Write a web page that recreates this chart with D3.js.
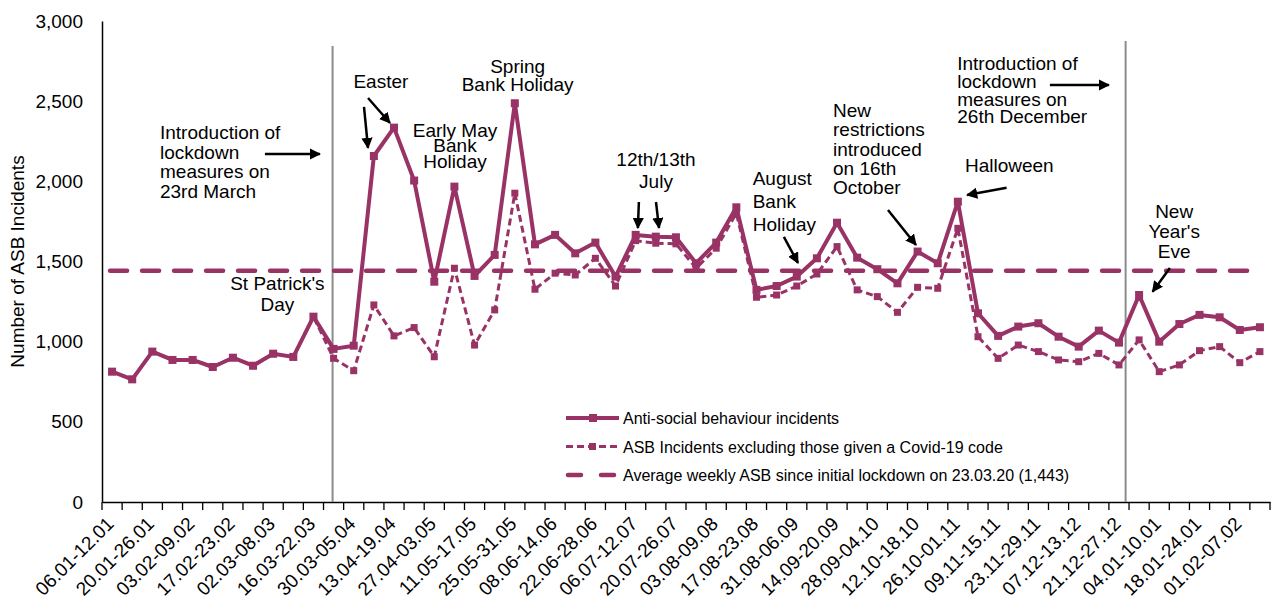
<!DOCTYPE html>
<html>
<head>
<meta charset="utf-8">
<script src="https://cdn.jsdelivr.net/npm/d3@7.9.0/dist/d3.min.js"></script>
<style>
  body { margin: 0; background: #fff; }
  svg text { font-family: "Liberation Sans", Arial, sans-serif; fill: #000; }
</style>
</head>
<body>
<svg id="chart" width="1274" height="601"></svg>
<script>
// weekly periods, 06.01.2020 to 14.02.2021
const weeks = [
  "06.01-12.01", "13.01-19.01", "20.01-26.01", "27.01-02.02", "03.02-09.02", "10.02-16.02",
  "17.02-23.02", "24.02-01.03", "02.03-08.03", "09.03-15.03", "16.03-22.03", "23.03-29.03",
  "30.03-05.04", "06.04-12.04", "13.04-19.04", "20.04-26.04", "27.04-03.05", "04.05-10.05",
  "11.05-17.05", "18.05-24.05", "25.05-31.05", "01.06-07.06", "08.06-14.06", "15.06-21.06",
  "22.06-28.06", "29.06-05.07", "06.07-12.07", "13.07-19.07", "20.07-26.07", "27.07-02.08",
  "03.08-09.08", "10.08-16.08", "17.08-23.08", "24.08-30.08", "31.08-06.09", "07.09-13.09",
  "14.09-20.09", "21.09-27.09", "28.09-04.10", "05.10-11.10", "12.10-18.10", "19.10-25.10",
  "26.10-01.11", "02.11-08.11", "09.11-15.11", "16.11-22.11", "23.11-29.11", "30.11-06.12",
  "07.12-13.12", "14.12-20.12", "21.12-27.12", "28.12-03.01", "04.01-10.01", "11.01-17.01",
  "18.01-24.01", "25.01-31.01", "01.02-07.02", "08.02-14.02"
];

const asbAll = [
  813, 765, 938, 886, 886, 842, 900, 850, 925, 905, 1156, 955,
  975, 2158, 2335, 2005, 1374, 1967, 1410, 1541, 2487, 1607,
  1666, 1551, 1618, 1406, 1666, 1655, 1651, 1489, 1618, 1838,
  1323, 1347, 1406, 1520, 1742, 1524, 1452, 1364, 1562, 1489,
  1873, 1177, 1036, 1094, 1115, 1031, 969, 1069, 994, 1291,
  1000, 1110, 1167, 1152, 1073, 1090
];

const asbExCovid = [
  813, 765, 938, 886, 886, 842, 900, 850, 925, 905, 1156, 896,
  819, 1229, 1036, 1088, 906, 1458, 979, 1198, 1926, 1327,
  1427, 1416, 1520, 1347, 1630, 1614, 1610, 1458, 1583, 1801,
  1277, 1291, 1347, 1422, 1593, 1323, 1281, 1183, 1339, 1333,
  1707, 1031, 896, 979, 938, 886, 875, 927, 855, 1011,
  813, 855, 944, 969, 869, 938
];

const averageSinceLockdown = 1443;
const yTicks = [0, 500, 1000, 1500, 2000, 2500, 3000];

const seriesNames = [
  "Anti-social behaviour incidents",
  "ASB Incidents excluding those given a Covid-19 code",
  "Average weekly ASB since initial lockdown on 23.03.20 (1,443)"
];

// lockdown marker lines, as position in weeks
const lockdownLines = [11.45, 50.83];

const annotations = [
  { lines: ["Introduction of", "lockdown", "measures on", "23rd March"], at: [2.88, 2264], anchor: "start", lh: 19.5 },
  { lines: ["Easter"], at: [13.85, 2582], anchor: "middle", lh: 19 },
  { lines: ["Early May", "Bank", "Holiday"], at: [17.53, 2277], anchor: "middle", lh: 15.5 },
  { lines: ["Spring", "Bank Holiday"], at: [20.64, 2678], anchor: "middle", lh: 18 },
  { lines: ["12th/13th", "July"], at: [27.51, 2098], anchor: "middle", lh: 22.5 },
  { lines: ["August", "Bank", "Holiday"], at: [32.31, 1977], anchor: "start", lh: 22.8 },
  { lines: ["New", "restrictions", "introduced", "on 16th", "October"], at: [36.3, 2403], anchor: "start", lh: 19.4 },
  { lines: ["Introduction of", "lockdown", "measures on", "26th December"], at: [42.47, 2694], anchor: "start", lh: 17.8 },
  { lines: ["Halloween"], at: [42.85, 2060], anchor: "start", lh: 19 },
  { lines: ["New", "Year's", "Eve"], at: [53.24, 1770], anchor: "middle", lh: 20 },
  { lines: ["St Patrick's", "Day"], at: [8.71, 1322], anchor: "middle", lh: 20.5 }
];

// arrows: [from week, from value, to week, to value]
const arrows = [
  [8.09, 2170, 10.82, 2170],
  [13.01, 2464, 13.21, 2208],
  [13.21, 2520, 14.30, 2364],
  [26.66, 1871, 26.61, 1709],
  [27.51, 1871, 27.66, 1709],
  [33.86, 1653, 34.56, 1491],
  [39.03, 1821, 40.42, 1603],
  [47.07, 2601, 50.0, 2601],
  [44.92, 1960, 42.96, 1915],
  [53.03, 1460, 52.17, 1312]
];

const color = "#993366";
const margin = { top: 21, right: 4, bottom: 99, left: 102 };
const width = 1274, height = 601;

const svg = d3.select("#chart");

const x = d3.scaleBand()
  .domain(d3.range(weeks.length))
  .range([margin.left, width - margin.right])
  .padding(0);

// continuous position for fractional week placements
const xc = d3.scaleLinear()
  .domain([0, weeks.length])
  .range([margin.left, width - margin.right]);
const xMid = i => xc(i + 0.5);

const y = d3.scaleLinear()
  .domain([0, 3000])
  .range([height - margin.bottom, margin.top]);

// y axis
const yAxis = svg.append("g")
  .attr("transform", `translate(${margin.left},0)`)
  .call(d3.axisLeft(y).tickValues(yTicks).tickSize(0).tickPadding(19).tickFormat(d3.format(",")));
yAxis.select(".domain").attr("stroke", "#000").attr("stroke-width", 1.5);
yAxis.selectAll("text").style("font-size", "19px");

// x axis
const xAxis = svg.append("g")
  .attr("transform", `translate(0,${y(0)})`)
  .call(d3.axisBottom(x).tickSize(0).tickFormat(i => i % 2 === 0 ? weeks[i] : ""));
xAxis.select(".domain").attr("stroke", "#000").attr("stroke-width", 1.5);
xAxis.selectAll(".tick line").remove();
xAxis.selectAll(".tick text")
  .style("font-size", "19px")
  .attr("text-anchor", "end")
  .attr("dy", null)
  .attr("y", 0)
  .attr("transform", "translate(3,23) rotate(-45)");

// tick marks at band edges
svg.append("g")
  .selectAll("line")
  .data(d3.range(weeks.length + 1))
  .join("line")
  .attr("x1", d => xc(d)).attr("x2", d => xc(d))
  .attr("y1", y(0)).attr("y2", y(0) + 8)
  .attr("stroke", "#000").attr("stroke-width", 1.3);

// lockdown lines
svg.append("g")
  .selectAll("line")
  .data(lockdownLines)
  .join("line")
  .attr("x1", d => xc(d)).attr("x2", d => xc(d))
  .attr("y1", (d, i) => y(i === 0 ? 2844 : 2875)).attr("y2", y(0))
  .attr("stroke", "#8c8c8c").attr("stroke-width", 2);

// average line
svg.append("line")
  .attr("x1", xMid(0) - 2).attr("x2", xMid(weeks.length - 1))
  .attr("y1", y(averageSinceLockdown)).attr("y2", y(averageSinceLockdown))
  .attr("stroke", color).attr("stroke-width", 4.5)
  .attr("stroke-dasharray", "17,15").attr("stroke-linecap", "round");

const line = d3.line().x((d, i) => xMid(i)).y(d => y(d));

// excluding covid series
svg.append("path")
  .datum(asbExCovid)
  .attr("fill", "none")
  .attr("stroke", color).attr("stroke-width", 3)
  .attr("stroke-dasharray", "7,4")
  .attr("d", line);
svg.append("g")
  .selectAll("rect")
  .data(asbExCovid)
  .join("rect")
  .attr("x", (d, i) => xMid(i) - 3.5).attr("y", d => y(d) - 3.5)
  .attr("width", 7).attr("height", 7)
  .attr("fill", color);

// all ASB series
svg.append("path")
  .datum(asbAll)
  .attr("fill", "none")
  .attr("stroke", color).attr("stroke-width", 4)
  .attr("stroke-linejoin", "round")
  .attr("d", line);
svg.append("g")
  .selectAll("rect")
  .data(asbAll)
  .join("rect")
  .attr("x", (d, i) => xMid(i) - 4).attr("y", d => y(d) - 4)
  .attr("width", 8).attr("height", 8)
  .attr("fill", color);

// y axis title
svg.append("text")
  .attr("transform", `translate(24,${y(1500)}) rotate(-90)`)
  .attr("text-anchor", "middle")
  .style("font-size", "19px")
  .text("Number of ASB Incidents");

// annotations
const notes = svg.append("g").style("font-size", "19px");
annotations.forEach(a => {
  const t = notes.append("text")
    .attr("x", xc(a.at[0]))
    .attr("y", y(a.at[1]))
    .attr("text-anchor", a.anchor);
  a.lines.forEach((l, k) => {
    t.append("tspan")
      .attr("x", xc(a.at[0]))
      .attr("dy", k === 0 ? 0 : a.lh)
      .text(l);
  });
});

svg.append("defs").append("marker")
  .attr("id", "head")
  .attr("viewBox", "0 0 10 10")
  .attr("refX", 9).attr("refY", 5)
  .attr("markerWidth", 4.5).attr("markerHeight", 4.5)
  .attr("orient", "auto")
  .append("path")
  .attr("d", "M0,0 L10,5 L0,10 z")
  .attr("fill", "#000");

svg.append("g")
  .selectAll("line")
  .data(arrows)
  .join("line")
  .attr("x1", d => xc(d[0])).attr("y1", d => y(d[1]))
  .attr("x2", d => xc(d[2])).attr("y2", d => y(d[3]))
  .attr("stroke", "#000").attr("stroke-width", 2.5)
  .attr("marker-end", "url(#head)");

// legend
const legend = svg.append("g").attr("transform", "translate(566,418)");
const rowGap = 28.5;
seriesNames.forEach((name, k) => {
  const g = legend.append("g").attr("transform", `translate(0,${k * rowGap})`);
  if (k === 0) {
    g.append("line").attr("x1", 0).attr("x2", 53).attr("stroke", color).attr("stroke-width", 4);
    g.append("rect").attr("x", 23).attr("y", -4).attr("width", 8).attr("height", 8).attr("fill", color);
  } else if (k === 1) {
    g.append("line").attr("x1", 0).attr("x2", 53).attr("stroke", color).attr("stroke-width", 3).attr("stroke-dasharray", "7,4");
    g.append("rect").attr("x", 23).attr("y", -3.5).attr("width", 7).attr("height", 7).attr("fill", color);
  } else {
    g.append("line").attr("x1", 2).attr("x2", 51).attr("stroke", color).attr("stroke-width", 4.5)
      .attr("stroke-dasharray", "13,20").attr("stroke-linecap", "round");
  }
  g.append("text").attr("x", 57).attr("y", 6).style("font-size", "16px").text(name);
});
</script>
</body>
</html>
